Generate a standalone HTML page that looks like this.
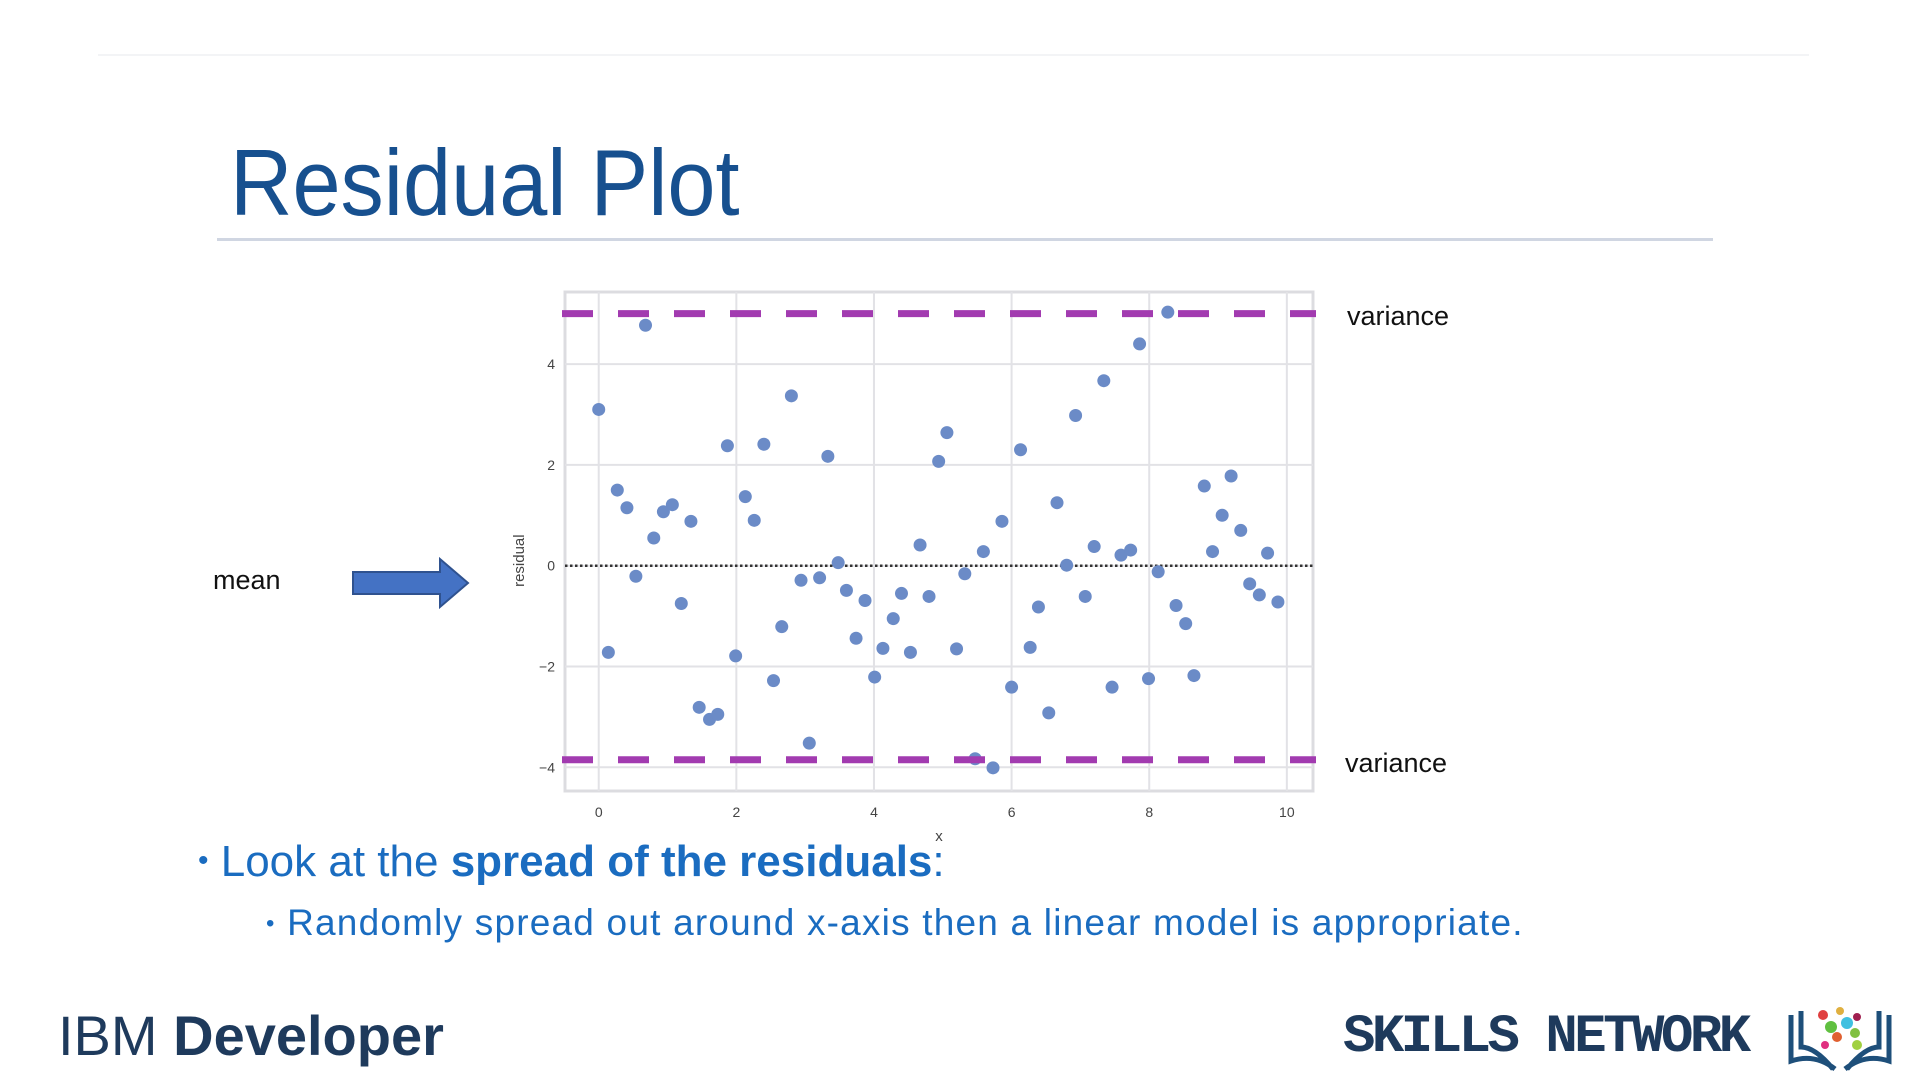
<!DOCTYPE html>
<html><head><meta charset="utf-8">
<style>
html,body{margin:0;padding:0;background:#fff;}
body{width:1920px;height:1080px;position:relative;overflow:hidden;font-family:"Liberation Sans",sans-serif;}
.abs{position:absolute;white-space:nowrap;}
</style></head>
<body>
<div class="abs" style="left:98px;top:54px;width:1711px;height:2px;background:#f3f4f6;"></div>
<div class="abs" style="left:230px;top:128px;font-size:94px;color:#17508f;letter-spacing:0px;font-weight:normal;line-height:110px;transform:scaleX(0.92);transform-origin:left;">Residual Plot</div>
<div class="abs" style="left:217px;top:238px;width:1496px;height:3px;background:#d0d6e2;"></div>

<svg class="abs" style="left:0;top:0" width="1920" height="1080" id="chart"></svg>

<div class="abs" style="left:213px;top:565px;font-size:27px;color:#111;">mean</div>
<svg class="abs" style="left:350px;top:556px" width="125" height="54">
<polygon points="3,16 90,16 90,3 118,27 90,51 90,38 3,38" fill="#4472c4" stroke="#2f528f" stroke-width="2"/>
</svg>
<div class="abs" style="left:1347px;top:301px;font-size:27px;color:#111;">variance</div>
<div class="abs" style="left:1345px;top:748px;font-size:27px;color:#111;">variance</div>

<div class="abs" style="left:198px;top:837px;font-size:44px;color:#1a6cc0;"><span style="font-size:30px;position:relative;top:-6px;">•</span> Look at the <b>spread of the residuals</b>:</div>
<div class="abs" style="left:266px;top:902px;font-size:37px;letter-spacing:1.2px;color:#1a6cc0;"><span style="font-size:24px;position:relative;top:-4px;">•</span> Randomly spread out around x-axis then a linear model is appropriate.</div>

<div class="abs" style="left:58px;top:1003px;font-size:56px;color:#1e3a5c;"><span style="font-weight:normal">IBM</span> <b>Developer</b></div>
<div class="abs" style="left:1343px;top:1007px;font-size:54px;color:#1e3a5c;font-family:'Liberation Mono',monospace;font-weight:bold;letter-spacing:-3.5px;">SKILLS NETWORK</div>
<svg class="abs" style="left:1785px;top:1003px" width="110" height="70">
<path d="M6,12 L6,58 Q30,50 50,66 M48,66 Q30,44 16,44 L16,8" fill="none" stroke="#1e4f7a" stroke-width="5"/>
<path d="M104,12 L104,58 Q80,50 60,66 M62,66 Q80,44 94,44 L94,8" fill="none" stroke="#1e4f7a" stroke-width="5"/>
<circle cx="38" cy="12" r="5" fill="#e04040"/><circle cx="55" cy="8" r="4" fill="#e0b040"/><circle cx="62" cy="20" r="6" fill="#40c0e0"/>
<circle cx="46" cy="24" r="6" fill="#60c040"/><circle cx="72" cy="14" r="4" fill="#a02050"/><circle cx="52" cy="34" r="5" fill="#e06030"/>
<circle cx="70" cy="30" r="5" fill="#80c040"/><circle cx="40" cy="42" r="4" fill="#e03080"/><circle cx="72" cy="42" r="5" fill="#a0d040"/>
</svg>

<script>
const xValues=[0,0.14,0.27,0.41,0.54,0.68,0.80,0.94,1.07,1.20,1.34,1.46,1.61,1.73,1.87,1.99,2.13,2.26,2.40,2.54,2.66,2.80,2.94,3.06,3.21,3.33,3.48,3.60,3.74,3.87,4.01,4.13,4.28,4.40,4.53,4.67,4.80,4.94,5.06,5.20,5.32,5.47,5.59,5.73,5.86,6.00,6.13,6.27,6.39,6.54,6.66,6.80,6.93,7.07,7.20,7.34,7.46,7.59,7.73,7.86,7.99,8.13,8.27,8.39,8.53,8.65,8.80,8.92,9.06,9.19,9.33,9.46,9.60,9.72,9.87];
const residuals=[3.10,-1.72,1.50,1.15,-0.21,4.77,0.55,1.07,1.21,-0.75,0.88,-2.81,-3.05,-2.95,2.38,-1.79,1.37,0.90,2.41,-2.28,-1.21,3.37,-0.29,-3.52,-0.24,2.17,0.06,-0.49,-1.44,-0.69,-2.21,-1.64,-1.05,-0.55,-1.72,0.41,-0.61,2.07,2.64,-1.65,-0.16,-3.83,0.28,-4.01,0.88,-2.41,2.30,-1.62,-0.82,-2.92,1.25,0.01,2.98,-0.61,0.38,3.67,-2.41,0.21,0.31,4.40,-2.24,-0.12,5.03,-0.79,-1.15,-2.18,1.58,0.28,1.00,1.78,0.70,-0.36,-0.58,0.25,-0.72];
const xTicks=[0,2,4,6,8,10];
const yTicks=[-4,-2,0,2,4];
const varianceUpper=5.0;
const varianceLower=-3.85;
const meanValue=0;

const X0=565,X1=1313,Y0=292,Y1=791;
const xmin=-0.49,xmax=10.38,ymin=-4.47,ymax=5.43;
function sx(v){return X0+(v-xmin)/(xmax-xmin)*(X1-X0);}
function sy(v){return Y1-(v-ymin)/(ymax-ymin)*(Y1-Y0);}
const svg=document.getElementById('chart');
const NS='http://www.w3.org/2000/svg';
function mk(tag,attrs,name){const e=document.createElementNS(NS,tag);for(const k in attrs)e.setAttribute(k,attrs[k]);


svg.appendChild(e);return e;}
mk('rect',{x:X0,y:Y0,width:X1-X0,height:Y1-Y0,fill:'#fff',stroke:'#dcdce0','stroke-width':3},'plot-area');
xTicks.forEach(t=>{
 mk('line',{x1:sx(t),x2:sx(t),y1:Y0,y2:Y1,stroke:'#e2e2e6','stroke-width':2},'x-gridline');
 const tx=mk('text',{x:sx(t),y:Y1+26,'text-anchor':'middle','font-size':14,fill:'#444','font-family':'Liberation Sans'},'x-tick-label');tx.textContent=t;
});
yTicks.forEach(t=>{
 mk('line',{x1:X0,x2:X1,y1:sy(t),y2:sy(t),stroke:'#e2e2e6','stroke-width':2},'y-gridline');
 const tx=mk('text',{x:X0-10,y:sy(t)+5,'text-anchor':'end','font-size':14,fill:'#444','font-family':'Liberation Sans'},'y-tick-label');tx.textContent=t<0?'−'+(-t):t;
});
mk('line',{x1:X0,x2:X1,y1:sy(meanValue),y2:sy(meanValue),stroke:'#333','stroke-width':2.5,'stroke-dasharray':'2.5 2.5'},'mean-line');
const xl=mk('text',{x:(X0+X1)/2,y:841,'text-anchor':'middle','font-size':15,fill:'#444','font-family':'Liberation Sans'},'x-axis-title');xl.textContent='x';
const yl=mk('text',{x:0,y:0,'text-anchor':'middle','font-size':15,fill:'#444','font-family':'Liberation Sans',transform:'translate(524,'+sy(0.1)+') rotate(-90)'},'y-axis-title');yl.textContent='residual';
xValues.forEach((v,i)=>{
 mk('circle',{cx:sx(v),cy:sy(residuals[i]),r:6.5,fill:'#6b8bc7'},'residual-point');
});
[varianceUpper,varianceLower].forEach((v,i)=>{
 mk('line',{x1:562,x2:1316,y1:sy(v),y2:sy(v),stroke:'#a23bb0','stroke-width':7,'stroke-dasharray':'31 25'},i?'variance-line-lower':'variance-line-upper');
});
</script>
</body></html>
